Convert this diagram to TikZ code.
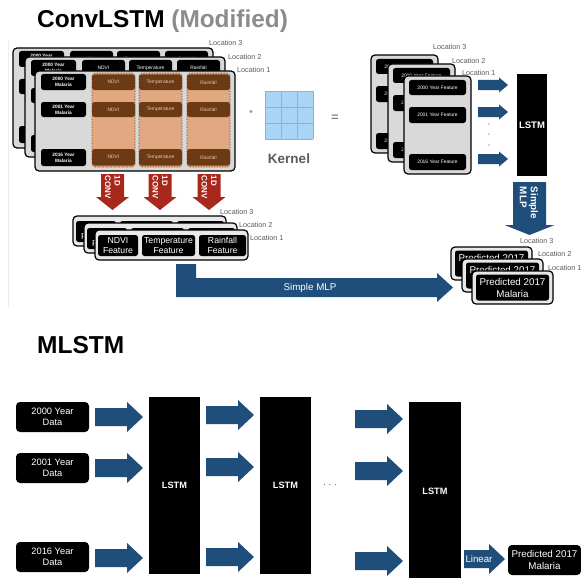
\documentclass[tikz,border=0pt]{standalone}
\usepackage{fontspec}
\setmainfont{Liberation Sans}
\usetikzlibrary{calc}

\definecolor{arrowblue}{HTML}{1F4E7A}
\definecolor{convred}{HTML}{A8281C}
\definecolor{tanfill}{HTML}{E1A881}
\definecolor{brownbox}{HTML}{6C3A15}
\definecolor{browntext}{HTML}{EBCDB4}
\definecolor{panelgray}{HTML}{D9D9D9}
\definecolor{lightpanel}{HTML}{E8E8E8}
\definecolor{kernelblue}{HTML}{A8D4F6}
\definecolor{kernelline}{HTML}{86B4D9}
\definecolor{labelgray}{HTML}{5A5A5A}
\definecolor{titlegray}{HTML}{8C8C8C}

\newcommand\tinyb{\fontsize{4.8}{5.8}\selectfont\bfseries}
\newcommand\tinyf{\fontsize{4.9}{5.8}\selectfont}
\newcommand\featf{\fontsize{8.7}{9.8}\selectfont}
\newcommand\predf{\fontsize{9.8}{12}\selectfont}
\newcommand\dataf{\fontsize{9.3}{11}\selectfont}
\newcommand\locf{\fontsize{7.2}{8}\selectfont}

\tikzset{
  x=1pt, y=-1pt,
  panel/.style={draw=black, line width=1.2pt, fill=panelgray, rounded corners=4pt},
  cpanel/.style={draw=black, line width=1.2pt, fill=lightpanel, rounded corners=4pt},
  blk/.style={fill=black, rounded corners=2.5pt, text=white, align=center,
    inner sep=0pt, outer sep=0pt},
  brn/.style={fill=brownbox, rounded corners=2.5pt, text=browntext, align=center,
    inner sep=0pt, outer sep=0pt, font=\tinyf},
  tancol/.style={fill=tanfill, draw=brownbox, densely dotted, line width=0.6pt,
    rounded corners=3pt},
  lstm/.style={fill=black, text=white, inner sep=0pt, outer sep=0pt},
  loc/.style={anchor=west, text=labelgray, font=\locf, inner sep=0pt},
  arrowtxt/.style={text=white, inner sep=0pt, align=left},
}

% box node given by its corners
\newcommand\rbox[7][]{\node[#1, minimum width={#5-#3}, minimum height={#6-#4}]
  (#2) at ({(#3+#5)/2},{(#4+#6)/2}) {#7};}

% horizontal block arrow: x0, tip x, centre y, shaft half, head half, head start x
\newcommand\harrow[6]{\fill[arrowblue] (#1,{#3-#4}) -- (#6,{#3-#4}) -- (#6,{#3-#5})
  -- (#2,#3) -- (#6,{#3+#5}) -- (#6,{#3+#4}) -- (#1,{#3+#4}) -- cycle;}

% downward block arrow: colour, centre x, top y, tip y, shaft half, head half, head start y
\newcommand\darrow[7]{\fill[#1] ({#2-#5},#3) -- ({#2+#5},#3) -- ({#2+#5},#7)
  -- ({#2+#6},#7) -- (#2,#4) -- ({#2-#6},#7) -- ({#2-#5},#7) -- cycle;}

% input sheet for one location, drawn behind
\newcommand\leftback[3]{\begin{scope}[shift={(#2,#3)}]
  \draw[panel] (35,71) rectangle (235,171);
  \foreach \r/\ya/\yb/\yr in {0/74/90/2000,1/102/117/2001,2/149/166/2016}{
    \rbox[blk,font=\tinyb]{#1y\r}{41}{\ya}{86}{\yb}{\yr\ Year\\Malaria}
    \rbox[blk,font=\tinyf]{#1n\r}{92}{\ya}{135}{\yb}{NDVI}
    \rbox[blk,font=\tinyf]{#1t\r}{139}{\ya}{182}{\yb}{Temperature}
    \rbox[blk,font=\tinyf]{#1r\r}{187}{\ya}{230}{\yb}{Rainfall}
  }
\end{scope}}

% feature sheet for one location
\newcommand\featpanel[3]{\begin{scope}[shift={(#2,#3)}]
  \draw[panel] (404,76) rectangle (471,174);
  \rbox[blk,font=\tinyf]{#1a}{409}{80}{466}{95}{2000 Year Feature}
  \rbox[blk,font=\tinyf]{#1b}{409}{107}{466}{123}{2001 Year Feature}
  \rbox[blk,font=\tinyf]{#1c}{409}{154}{466}{170}{2016 Year Feature}
\end{scope}}

% convolved feature strip for one location
\newcommand\convpanel[3]{\begin{scope}[shift={(#2,#3)}]
  \draw[cpanel] (95,230) rectangle (248,260);
  \rbox[blk,font=\featf]{#1n}{98}{235}{138}{256}{NDVI\\Feature}
  \rbox[blk,font=\featf]{#1t}{142}{235}{195}{256}{Temperature\\Feature}
  \rbox[blk,font=\featf]{#1r}{199}{235}{246}{256}{Rainfall\\Feature}
\end{scope}}

% prediction card for one location
\newcommand\predpanel[3]{\begin{scope}[shift={(#2,#3)}]
  \draw[cpanel] (472,271) rectangle (553,304);
  \rbox[blk,font=\predf]{#1}{476}{274.5}{549}{300.5}{Predicted 2017\\Malaria}
\end{scope}}

\begin{document}
\begin{tikzpicture}
\useasboundingbox[fill=white] (0,0) rectangle (581,578);

% faint edge of the upper panel
\draw[black!7, line width=0.6pt] (8,40) -- (8,307);

% ---------------- ConvLSTM (Modified) ----------------
\node[anchor=base west, inner sep=0pt, font=\fontsize{24.4}{28}\selectfont\bfseries]
  (title) at (37,28) {ConvLSTM \textcolor{titlegray}{(Modified)}};

% input sheets
\leftback{lb}{-22}{-23}
\leftback{lm}{-10}{-14}
\draw[panel] (35,71) rectangle (235,171);
\rbox[blk,font=\tinyb]{y0}{41}{74}{86}{90}{2000 Year\\Malaria}
\rbox[blk,font=\tinyb]{y1}{41}{102}{86}{117}{2001 Year\\Malaria}
\rbox[blk,font=\tinyb]{y2}{41}{149}{86}{166}{2016 Year\\Malaria}
\foreach \c/\xa/\xb/\lab in {n/92/135/NDVI, t/139/182/Temperature, r/187/230/Rainfall}{
  \draw[tancol] (\xa,73) rectangle (\xb,167);
  \rbox[brn]{\c0}{\xa+1.5}{74.5}{\xb-1.5}{90}{\lab}
  \rbox[brn]{\c1}{\xa+1.5}{102}{\xb-1.5}{117}{\lab}
  \rbox[brn]{\c2}{\xa+1.5}{149}{\xb-1.5}{165.5}{\lab}
}
\node[loc] (l3a) at (209,43) {Location 3};
\node[loc] (l2a) at (228,57) {Location 2};
\node[loc] (l1a) at (237,70) {Location 1};

% convolution kernel
\node[text=labelgray, font=\fontsize{9}{10}\selectfont, inner sep=0pt] (star) at (251,113) {*};
\fill[kernelblue] (265,91) rectangle (313,139);
\foreach \k in {0,1,2,3}{
  \draw[kernelline, line width=0.6pt] ({265+16*\k},91) -- ({265+16*\k},139);
  \draw[kernelline, line width=0.6pt] (265,{91+16*\k}) -- (313,{91+16*\k});
}
\node[anchor=base, inner sep=0pt, text=labelgray, font=\fontsize{13.5}{15}\selectfont\bfseries]
  (kernel) at (289,163) {Kernel};
\node[text=labelgray, font=\fontsize{13}{14}\selectfont, inner sep=0pt] (eq) at (335,118) {=};

% feature sheets
\featpanel{fb}{-33}{-21}
\featpanel{fm}{-16}{-12}
\featpanel{ff}{0}{0}
\node[loc] (l3b) at (433,47) {Location 3};
\node[loc] (l2b) at (452,61) {Location 2};
\node[loc] (l1b) at (462,73) {Location 1};

% sheets into the LSTM
\harrow{478}{508}{85}{5}{7.5}{499}
\harrow{478}{508}{112}{5}{7.5}{499}
\harrow{478}{508}{159}{5}{7.5}{499}
\foreach \d in {124,134,145}{\fill[black!70] (489,\d) circle (0.6);}
\rbox[lstm,font=\fontsize{9.5}{11}\selectfont\bfseries]{lstmtop}{517}{74}{547}{176}{LSTM}

% LSTM output through the MLP
\darrow{arrowblue}{529.5}{182}{235}{16.5}{25}{225}
\node[arrowtxt, rotate=-90, font=\fontsize{9.8}{11}\selectfont\bfseries] (mlpv) at (529,203)
  {Simple\\MLP};

% 1D convolutions
\foreach \cx/\nm in {112.5/ca, 160/cb, 209/cc}{
  \darrow{convred}{\cx}{174}{210}{11.5}{16.5}{197}
  \node[arrowtxt, rotate=-90, font=\fontsize{8}{9.5}\selectfont\bfseries] (\nm) at (\cx,187.5)
    {1D\\CONV};
}

% convolved features
\convpanel{cb}{-22}{-14}
\convpanel{cm}{-11}{-7}
\convpanel{cf}{0}{0}
\node[loc] (l3c) at (220,212) {Location 3};
\node[loc] (l2c) at (239,225) {Location 2};
\node[loc] (l1c) at (250,238) {Location 1};

% features through the MLP
\fill[arrowblue] (176,264) -- (196,264) -- (196,278) -- (437,278) -- (437,273)
  -- (453,287.5) -- (437,302) -- (437,297) -- (176,297) -- cycle;
\node[arrowtxt, font=\fontsize{9.8}{11}\selectfont] (mlph) at (310,288) {Simple MLP};

% predictions
\predpanel{pb}{-21}{-24}
\predpanel{pm}{-10}{-12}
\predpanel{pf}{0}{0}
\node[loc] (l3d) at (520,241) {Location 3};
\node[loc] (l2d) at (538,254) {Location 2};
\node[loc] (l1d) at (548,268) {Location 1};

% ---------------- MLSTM ----------------
\node[anchor=base west, inner sep=0pt, font=\fontsize{24.5}{28}\selectfont\bfseries]
  (mtitle) at (37,353) {MLSTM};

\rbox[blk,font=\dataf,rounded corners=4pt]{d0}{16}{402}{89}{432}{2000 Year\\Data}
\rbox[blk,font=\dataf,rounded corners=4pt]{d1}{16}{453}{89}{483}{2001 Year\\Data}
\rbox[blk,font=\dataf,rounded corners=4pt]{d2}{16}{542}{89}{572}{2016 Year\\Data}

\harrow{95}{143}{417}{9}{15}{127}
\harrow{95}{143}{468}{9}{15}{127}
\harrow{95}{143}{558}{9}{15}{127}
\rbox[lstm,font=\fontsize{9.2}{11}\selectfont\bfseries]{lstm1}{149}{397}{200}{574}{LSTM}

\harrow{206}{254}{415}{9}{15}{238}
\harrow{206}{254}{467}{9}{15}{238}
\harrow{206}{254}{557}{9}{15}{238}
\rbox[lstm,font=\fontsize{9.2}{11}\selectfont\bfseries]{lstm2}{260}{397}{311}{574}{LSTM}

\node[inner sep=0pt, text=black!70, font=\fontsize{9}{10}\selectfont] (dots) at (330,486) {· · ·};

\harrow{355}{403}{419}{9}{15}{387}
\harrow{355}{403}{471}{9}{15}{387}
\harrow{355}{403}{561}{9}{15}{387}
\rbox[lstm,font=\fontsize{9.2}{11}\selectfont\bfseries]{lstm3}{409}{402}{461}{580}{LSTM}

\harrow{464}{505}{559}{9}{15}{489}
\node[arrowtxt, font=\fontsize{9.7}{11}\selectfont] (linear) at (479,559) {Linear};
\rbox[blk,font=\predf,rounded corners=4pt]{pred}{508}{545}{581}{575}{Predicted 2017\\Malaria}

\end{tikzpicture}
\end{document}
